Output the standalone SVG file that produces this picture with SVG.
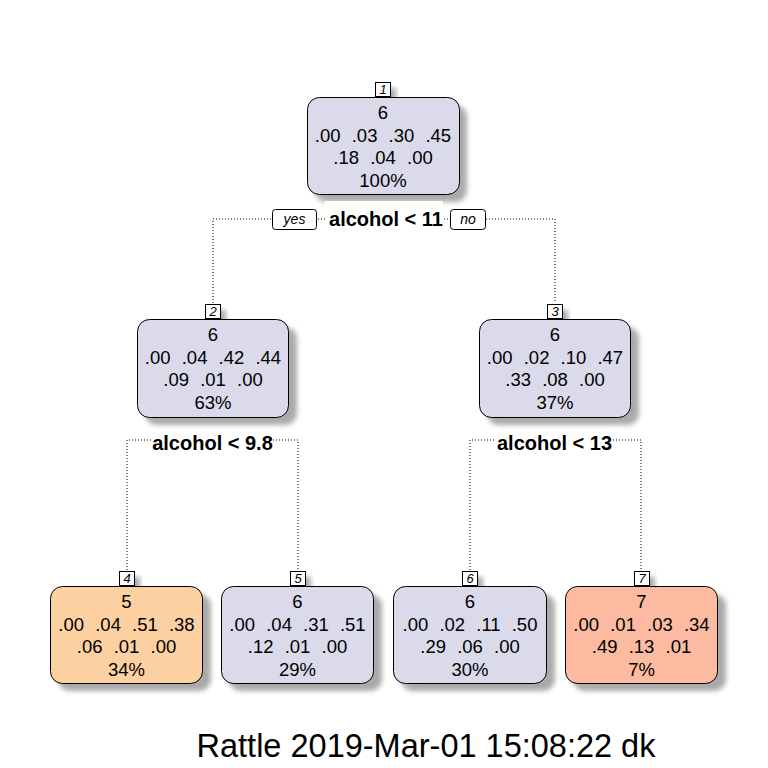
<svg xmlns="http://www.w3.org/2000/svg" width="768" height="768" viewBox="0 0 768 768">
<defs>
<filter id="blur" x="-20%" y="-20%" width="140%" height="140%"><feGaussianBlur stdDeviation="2.5"/></filter>
</defs>
<style>
.shadow{fill:#aaaaaa;filter:url(#blur)}
.node{stroke:#000;stroke-width:1}
.c6{fill:#DADAEB}
.c5{fill:#FDD0A2}
.c7{fill:#FCBBA1}
.nt{font-family:"Liberation Sans",Arial,sans-serif;font-size:18.5px;text-anchor:middle;fill:#000;word-spacing:6px}
.num{fill:#fff;stroke:#000;stroke-width:1}
.numt{font-family:"Liberation Sans",Arial,sans-serif;font-size:13px;font-style:italic;text-anchor:middle}
.conn{fill:none;stroke:#000;stroke-width:1;stroke-dasharray:1 2}
.split{font-family:"Liberation Sans",Arial,sans-serif;font-size:20px;font-weight:bold;text-anchor:middle}
.yn{fill:#fff;stroke:#000;stroke-width:1}
.ynt{font-family:"Liberation Sans",Arial,sans-serif;font-size:14px;font-style:italic;text-anchor:middle}
.title{font-family:"Liberation Sans",Arial,sans-serif;font-size:32.5px;text-anchor:middle}
</style>
<rect width="768" height="768" fill="#fff"/>
<g id="shadows">
<rect class="shadow" x="315" y="105" width="152" height="97" rx="12"/>
<rect class="shadow" x="145" y="327" width="152" height="98" rx="12"/>
<rect class="shadow" x="487" y="327" width="152" height="98" rx="12"/>
<rect class="shadow" x="58" y="594" width="153" height="97" rx="12"/>
<rect class="shadow" x="229" y="594" width="153" height="97" rx="12"/>
<rect class="shadow" x="401" y="594" width="154" height="97" rx="12"/>
<rect class="shadow" x="573" y="594" width="153" height="97" rx="12"/>
<rect class="shadow" x="381" y="88" width="15" height="14"/>
<rect class="shadow" x="211" y="310" width="15" height="14"/>
<rect class="shadow" x="553" y="310" width="15" height="14"/>
<rect class="shadow" x="125" y="577" width="15" height="14"/>
<rect class="shadow" x="296" y="577" width="15" height="14"/>
<rect class="shadow" x="468" y="577" width="15" height="14"/>
<rect class="shadow" x="640" y="577" width="15" height="14"/>
</g>
<g id="connectors">
<path class="conn" d="M213,303 V219 H555 V303"/>
<path class="conn" d="M127,570 V440 H298 V570"/>
<path class="conn" d="M470,570 V440 H641 V570"/>
</g>
<g id="split1">
<rect x="325" y="201" width="118" height="29" fill="#fff"/>
<text class="split" x="386" y="226">alcohol &lt; 11</text>
<rect class="yn" x="272.5" y="209.5" width="44" height="20" rx="3"/>
<text class="ynt" x="294.5" y="224">yes</text>
<rect class="yn" x="450.5" y="209.5" width="35" height="20" rx="3"/>
<text class="ynt" x="468" y="224">no</text>
</g>
<g id="split2">
<rect x="153" y="429" width="120" height="25" fill="#fff"/>
<text class="split" x="212.5" y="450">alcohol &lt; 9.8</text>
</g>
<g id="split3">
<rect x="496" y="429" width="117" height="25" fill="#fff"/>
<text class="split" x="554.5" y="450">alcohol &lt; 13</text>
</g>
<g id="node1">
<rect class="node c6" x="307.5" y="97.5" width="152" height="97" rx="12"/>
<rect class="num" x="375.5" y="82.5" width="15" height="14"/>
<text class="numt" x="383" y="94">1</text>
<text class="nt" x="383" y="119">6</text>
<text class="nt" x="383" y="142">.00 .03 .30 .45</text>
<text class="nt" x="383" y="164">.18 .04 .00</text>
<text class="nt" x="383" y="187">100%</text>
</g>
<g id="node2">
<rect class="node c6" x="137.5" y="319.5" width="151" height="98" rx="12"/>
<rect class="num" x="205.5" y="304.5" width="15" height="14"/>
<text class="numt" x="213" y="316">2</text>
<text class="nt" x="213" y="341">6</text>
<text class="nt" x="213" y="364">.00 .04 .42 .44</text>
<text class="nt" x="213" y="386">.09 .01 .00</text>
<text class="nt" x="213" y="409">63%</text>
</g>
<g id="node3">
<rect class="node c6" x="479.5" y="319.5" width="151" height="98" rx="12"/>
<rect class="num" x="547.5" y="304.5" width="15" height="14"/>
<text class="numt" x="555" y="316">3</text>
<text class="nt" x="555" y="341">6</text>
<text class="nt" x="555" y="364">.00 .02 .10 .47</text>
<text class="nt" x="555" y="386">.33 .08 .00</text>
<text class="nt" x="555" y="409">37%</text>
</g>
<g id="node4">
<rect class="node c5" x="50.5" y="586.5" width="152" height="97" rx="12"/>
<rect class="num" x="119.5" y="571.5" width="15" height="14"/>
<text class="numt" x="127" y="583">4</text>
<text class="nt" x="126.5" y="608">5</text>
<text class="nt" x="126.5" y="631">.00 .04 .51 .38</text>
<text class="nt" x="126.5" y="653">.06 .01 .00</text>
<text class="nt" x="126.5" y="676">34%</text>
</g>
<g id="node5">
<rect class="node c6" x="221.5" y="586.5" width="152" height="97" rx="12"/>
<rect class="num" x="290.5" y="571.5" width="15" height="14"/>
<text class="numt" x="298" y="583">5</text>
<text class="nt" x="297.5" y="608">6</text>
<text class="nt" x="297.5" y="631">.00 .04 .31 .51</text>
<text class="nt" x="297.5" y="653">.12 .01 .00</text>
<text class="nt" x="297.5" y="676">29%</text>
</g>
<g id="node6">
<rect class="node c6" x="393.5" y="586.5" width="153" height="97" rx="12"/>
<rect class="num" x="462.5" y="571.5" width="15" height="14"/>
<text class="numt" x="470" y="583">6</text>
<text class="nt" x="470" y="608">6</text>
<text class="nt" x="470" y="631">.00 .02 .11 .50</text>
<text class="nt" x="470" y="653">.29 .06 .00</text>
<text class="nt" x="470" y="676">30%</text>
</g>
<g id="node7">
<rect class="node c7" x="565.5" y="586.5" width="152" height="97" rx="12"/>
<rect class="num" x="634.5" y="571.5" width="15" height="14"/>
<text class="numt" x="642" y="583">7</text>
<text class="nt" x="641.5" y="608">7</text>
<text class="nt" x="641.5" y="631">.00 .01 .03 .34</text>
<text class="nt" x="641.5" y="653">.49 .13 .01</text>
<text class="nt" x="641.5" y="676">7%</text>
</g>
<text class="title" x="426" y="757">Rattle 2019-Mar-01 15:08:22 dk</text>
</svg>
